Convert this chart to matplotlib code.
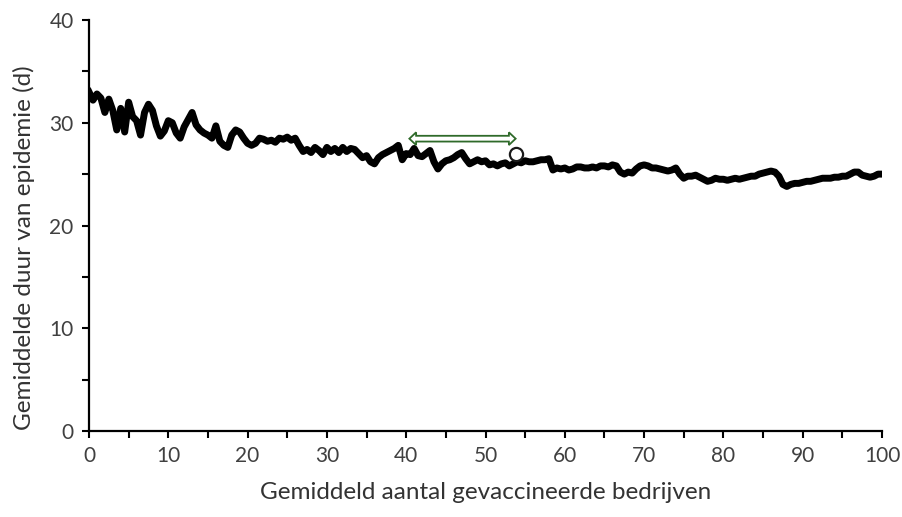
import numpy as np
import matplotlib
matplotlib.use("Agg")
import matplotlib.pyplot as plt
from matplotlib.patches import Polygon
from matplotlib.ticker import MultipleLocator

plt.rcParams['font.family'] = ['Lato', 'DejaVu Sans']

# x grid (number of vaccinated farms)
x_step = 0.5
x_vals = np.arange(0, 100 + x_step / 2, x_step)

# mean epidemic duration (days)
y_0_20 = [33.0, 32.2, 32.8, 32.4, 31.0, 32.3, 31.2, 29.3, 31.4, 29.1,
          32.0, 30.6, 30.2, 28.8, 31.0, 31.8, 31.2, 29.7, 28.7, 29.2,
          30.2, 30.0, 29.0, 28.5, 29.6, 30.3, 31.0, 29.8, 29.3, 29.0,
          28.8, 28.5, 29.7, 28.2, 27.8, 27.6, 28.8, 29.3, 29.1, 28.5,
          28.0]
y_20_40 = [27.8, 28.0, 28.5, 28.4, 28.2, 28.3, 28.1, 28.5, 28.4, 28.6,
           28.3, 28.5, 27.8, 27.2, 27.4, 27.1, 27.6, 27.3, 26.9, 27.6,
           27.2, 27.5, 27.1, 27.6, 27.2, 27.5, 27.4, 27.0, 26.6, 26.8,
           26.2, 26.0, 26.6, 26.9, 27.1, 27.3, 27.5, 27.8, 26.4, 27.0]
y_40_60 = [26.9, 27.5, 26.8, 26.7, 27.0, 27.3, 26.2, 25.5, 26.0, 26.3,
           26.4, 26.6, 26.9, 27.1, 26.5, 26.0, 26.2, 26.4, 26.2, 26.3,
           25.9, 26.0, 25.8, 26.0, 26.1, 25.8, 26.0, 26.2, 26.1, 26.3,
           26.2, 26.2, 26.3, 26.4, 26.4, 26.5, 25.4, 25.6, 25.5, 25.6]
y_60_80 = [25.4, 25.5, 25.7, 25.7, 25.6, 25.6, 25.7, 25.6, 25.8, 25.8,
           25.7, 25.9, 25.8, 25.2, 25.0, 25.2, 25.1, 25.5, 25.8, 25.9,
           25.8, 25.6, 25.6, 25.5, 25.4, 25.3, 25.4, 25.6, 25.0, 24.6,
           24.8, 24.8, 24.9, 24.7, 24.5, 24.3, 24.4, 24.6, 24.5, 24.5]
y_80_100 = [24.4, 24.5, 24.6, 24.5, 24.6, 24.7, 24.8, 24.8, 25.0, 25.1,
            25.2, 25.3, 25.2, 24.8, 24.0, 23.8, 24.0, 24.1, 24.1, 24.2,
            24.3, 24.3, 24.4, 24.5, 24.6, 24.6, 24.6, 24.7, 24.7, 24.8,
            24.8, 25.0, 25.2, 25.2, 24.9, 24.8, 24.7, 24.8, 25.0, 25.0]
y_vals = y_0_20 + y_20_40 + y_40_60 + y_60_80 + y_80_100

# annotation: double arrow and circle
arrow_x_start = 40.4
arrow_x_end = 53.8
arrow_y = 28.45
circle_x = 53.9
circle_y = 27.0

x_ticks = list(range(0, 101, 10))
y_ticks = list(range(0, 41, 10))

fig = plt.figure(figsize=(9.03, 5.17), dpi=100)
ax = fig.add_axes([89 / 903, 1 - 431 / 517, (882 - 89) / 903, (431 - 20) / 517])

ax.plot(x_vals, y_vals, color='black', lw=5.0, solid_joinstyle='round', zorder=3)

# hollow double arrow
shaft_h = 0.28
head_h = 0.62
head_l = 0.85
x0, x1, yc = arrow_x_start, arrow_x_end, arrow_y
verts = [(x0, yc), (x0 + head_l, yc + head_h), (x0 + head_l, yc + shaft_h),
         (x1 - head_l, yc + shaft_h), (x1 - head_l, yc + head_h), (x1, yc),
         (x1 - head_l, yc - head_h), (x1 - head_l, yc - shaft_h),
         (x0 + head_l, yc - shaft_h), (x0 + head_l, yc - head_h)]
ax.add_patch(Polygon(verts, closed=True, fc='white', ec='#2f6a2a', lw=1.3, zorder=4))

ax.plot([circle_x], [circle_y], marker='o', ms=9.5, mfc='white', mec='#1a1a1a',
        mew=1.6, zorder=5)

ax.set_xlim(0, 100)
ax.set_ylim(0, 40)
ax.set_xticks(x_ticks)
ax.set_yticks(y_ticks)
ax.xaxis.set_minor_locator(MultipleLocator(5))
ax.yaxis.set_minor_locator(MultipleLocator(5))

for s in ['top', 'right']:
    ax.spines[s].set_visible(False)
for s in ['left', 'bottom']:
    ax.spines[s].set_linewidth(1.6)
    ax.spines[s].set_color('black')

ax.tick_params(which='major', direction='out', length=5, width=1.5, color='black',
               labelsize=15, labelcolor='#404040', pad=6)
ax.tick_params(which='minor', direction='out', length=5, width=1.5, color='black')

ax.set_xlabel('Gemiddeld aantal gevaccineerde bedrijven', fontsize=17.5,
              color='#333333', labelpad=11)
ax.set_ylabel('Gemiddelde duur van epidemie (d)', fontsize=17.5,
              color='#333333')
ax.yaxis.set_label_coords(-0.068, 0.445)

fig.savefig('out.png', dpi=100)
